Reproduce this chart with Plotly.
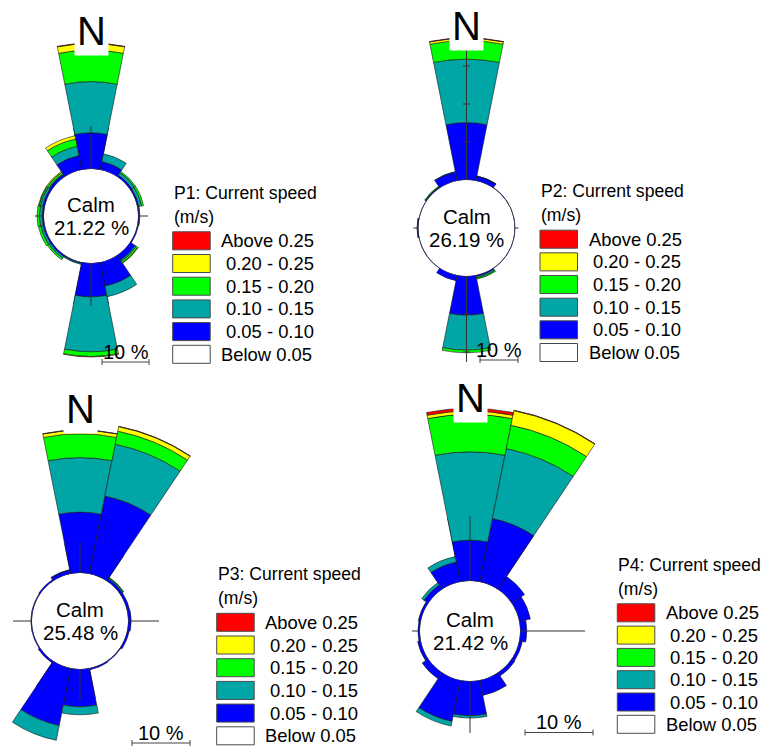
import math
import plotly.graph_objects as go

W, H = 768, 747
FONT = "Liberation Sans, Arial, sans-serif"

# ---------------- data ----------------
DIRECTIONS = ["N", "NNE", "NE", "ENE", "E", "ESE", "SE", "SSE",
              "S", "SSW", "SW", "WSW", "W", "WNW", "NW", "NNW"]
THETA = [0, 22.5, 45, 67.5, 90, 112.5, 135, 157.5,
         180, 202.5, 225, 247.5, 270, 292.5, 315, 337.5]
SECTOR_WIDTH = 22.5

SPEED_BINS = ["0.05 - 0.10", "0.10 - 0.15", "0.15 - 0.20", "0.20 - 0.25", "Above 0.25"]
BIN_COLORS = ["#0000FF", "#00A6A6", "#00FF00", "#FFFF00", "#FF0000"]
LEGEND_LABELS = ["Above 0.25", "0.20 - 0.25", "0.15 - 0.20", "0.10 - 0.15", "0.05 - 0.10", "Below 0.05"]
LEGEND_COLORS = ["#FF0000", "#FFFF00", "#00FF00", "#00A6A6", "#0000FF", "#FFFFFF"]

STATIONS = ["P1", "P2", "P3", "P4"]
CALM_PCT = [21.22, 26.19, 25.48, 21.42]

# frequency (%) per direction for each speed bin
P1_005_010 = [7.7, 1.8, 0.5, 0.4, 0.3, 0.3, 1.3, 5.2, 7.2, 0.3, 0.4, 0.4, 0.4, 0.5, 0.6, 3.1]
P1_010_015 = [10.9, 1.7, 0.6, 0.6, 0.1, 0.0, 0.3, 2.3, 11.7, 0.2, 0.4, 0.5, 0.6, 0.5, 0.2, 2.0]
P1_015_020 = [6.7, 0.0, 0.3, 0.4, 0.0, 0.0, 0.4, 0.0, 1.0, 0.0, 0.4, 0.5, 0.5, 0.3, 0.4, 1.6]
P1_020_025 = [1.4, 0, 0, 0, 0, 0, 0.1, 0, 0.1, 0, 0, 0, 0, 0.1, 0.2, 0.7]
P1_ABOVE_025 = [0.1, 0, 0, 0, 0, 0, 0, 0, 0, 0, 0, 0, 0, 0, 0, 0]

P2_005_010 = [15.1, 1.3, 0.15, 0.15, 0.15, 0.15, 0.15, 0.4, 10.3, 1.5, 0.15, 0.15, 0.3, 0.15, 0.3, 2.4]
P2_010_015 = [16.7, 0.05, 0, 0, 0, 0, 0, 0.4, 9.2, 0, 0, 0, 0.1, 0, 0.1, 0.1]
P2_015_020 = [4.9, 0, 0, 0, 0, 0, 0, 0.3, 0.7, 0, 0, 0, 0, 0, 0.2, 0]
P2_020_025 = [0.6, 0, 0, 0, 0, 0, 0, 0, 0, 0, 0, 0, 0, 0, 0, 0]
P2_ABOVE_025 = [0.1, 0, 0, 0, 0, 0, 0, 0, 0, 0, 0, 0, 0, 0, 0, 0]

P3_005_010 = [10.5, 13.7, 0.5, 0.5, 0.55, 0.4, 0.2, 0.3, 6.5, 10.1, 0.4, 0.2, 0.2, 0.2, 0.3, 0.7]
P3_010_015 = [9.4, 9.1, 0.2, 0, 0, 0, 0, 0, 1.4, 2.6, 0, 0, 0, 0, 0, 0.05]
P3_015_020 = [4.1, 2.3, 0.1, 0, 0, 0, 0, 0, 0, 0, 0, 0, 0, 0, 0, 0]
P3_020_025 = [0.6, 0.8, 0, 0, 0, 0, 0, 0, 0, 0, 0, 0, 0, 0, 0, 0]
P3_ABOVE_025 = [0.05, 0.05, 0, 0, 0, 0, 0, 0, 0, 0, 0, 0, 0, 0, 0, 0]

P4_005_010 = [6.0, 9.5, 2.3, 1.7, 1.0, 0.5, 0.6, 2.3, 5.1, 6.2, 1.1, 0.5, 0.3, 0.4, 0.8, 3.0]
P4_010_015 = [13.0, 10.5, 0, 0, 0, 0, 0, 0, 0.35, 0.7, 0, 0, 0, 0, 0.4, 0.8]
P4_015_020 = [5.5, 3.5, 0, 0, 0, 0, 0, 0, 0, 0, 0, 0, 0, 0, 0, 0]
P4_020_025 = [0.5, 2.2, 0, 0, 0, 0, 0, 0, 0, 0, 0, 0, 0, 0, 0, 0]
P4_ABOVE_025 = [0.4, 0.05, 0, 0, 0, 0, 0, 0, 0, 0, 0, 0, 0, 0, 0, 0]

STATION_DATA = {
    "P1": [P1_005_010, P1_010_015, P1_015_020, P1_020_025, P1_ABOVE_025],
    "P2": [P2_005_010, P2_010_015, P2_015_020, P2_020_025, P2_ABOVE_025],
    "P3": [P3_005_010, P3_010_015, P3_015_020, P3_020_025, P3_ABOVE_025],
    "P4": [P4_005_010, P4_010_015, P4_015_020, P4_020_025, P4_ABOVE_025],
}

# ---------------- layout / style (pixels) ----------------
PANELS = {
    "P1": dict(cx=91, cy=216, r0=47, ppp=4.7, long_groups=[[0], [8]],
               arms=[(0, 171), (90, 57), (180, 146), (270, 56)],
               n_y=31.1, leg_x=172.7, leg_y=240.8, leg_dy=22.7,
               scale_x=125.5, scale_y=362),
    "P2": dict(cx=466.5, cy=228, r0=48, ppp=3.8, long_groups=[],
               arms=[(0, 183), (90, 52), (180, 134), (270, 53)],
               n_y=26.1, leg_x=540, leg_y=239.2, leg_dy=22.66,
               scale_x=499, scale_y=360),
    "P3": dict(cx=80, cy=621, r0=48, ppp=5.8, long_groups=[[0, 1], [8, 9]],
               arms=[(0, 192), (90, 112), (180, 124), (270, 67)],
               n_y=409.1, leg_x=216.7, leg_y=622.3, leg_dy=22.7,
               scale_x=161, scale_y=743),
    "P4": dict(cx=470, cy=631, r0=50, ppp=6.8, long_groups=[[0, 1]],
               arms=[(0, 221), (90, 120), (180, 102), (270, 58)],
               n_y=397.8, leg_x=617.3, leg_y=612.8, leg_dy=22.3,
               scale_x=559, scale_y=732.5),
}
LEG_BOX_W, LEG_BOX_H = 37.5, 18
OUTLINE = "#1a1a1a"


def sector_bbox(s0, s1):
    """Same bounding box rule Plotly uses for polar sectors (includes origin)."""
    arc = s1 - s0
    a0 = s0 % 360
    a1 = a0 + arc
    ax0, ay0 = math.cos(math.radians(a0)), math.sin(math.radians(a0))
    ax1, ay1 = math.cos(math.radians(a1)), math.sin(math.radians(a1))
    if (a0 <= 90 and a1 >= 90) or (a0 > 90 and a1 >= 450):
        y1 = 1
    elif ay0 <= 0 and ay1 <= 0:
        y1 = 0
    else:
        y1 = max(ay0, ay1)
    if (a0 <= 180 and a1 >= 180) or (a0 > 180 and a1 >= 540):
        x0 = -1
    elif ax0 >= 0 and ax1 >= 0:
        x0 = 0
    else:
        x0 = min(ax0, ax1)
    if (a0 <= 270 and a1 >= 270) or (a0 > 270 and a1 >= 630):
        y0 = -1
    elif ay0 >= 0 and ay1 >= 0:
        y0 = 0
    else:
        y0 = min(ay0, ay1)
    if a1 >= 360:
        x1 = 1
    elif ax0 <= 0 and ax1 <= 0:
        x1 = 0
    else:
        x1 = max(ax0, ax1)
    return x0, y0, x1, y1


def domain_for(cx, cy, R, sector):
    x0, y0, x1, y1 = sector_bbox(*sector)
    left, right = cx + R * x0, cx + R * x1
    top, bottom = cy - R * y1, cy - R * y0
    return dict(x=[max(0.0, left / W), min(1.0, right / W)],
                y=[max(0.0, 1 - bottom / H), min(1.0, 1 - top / H)])


fig = go.Figure()
polars = {}
counter = [0]


def new_polar(p, R, sector):
    counter[0] += 1
    name = "polar" if counter[0] == 1 else f"polar{counter[0]}"
    polars[name] = dict(
        domain=domain_for(p["cx"], p["cy"], R, sector),
        sector=list(sector),
        hole=p["r0"] / R,
        bgcolor="rgba(0,0,0,0)",
        bargap=0,
        barmode="stack",
        radialaxis=dict(visible=False, range=[0, (R - p["r0"]) / p["ppp"]]),
        angularaxis=dict(visible=False, rotation=90, direction="clockwise"),
    )
    return name


def add_bars(station, subplot):
    for label, color, vals in zip(SPEED_BINS, BIN_COLORS, STATION_DATA[station]):
        fig.add_trace(go.Barpolar(
            r=vals, theta=THETA, width=[SECTOR_WIDTH] * len(THETA),
            marker=dict(color=color, line=dict(color=OUTLINE, width=0.6)),
            name=f"{station} {label}", subplot=subplot,
            showlegend=False, hoverinfo="skip"))


def totals(station):
    return [sum(v) for v in zip(*STATION_DATA[station])]


for station, calm in zip(STATIONS, CALM_PCT):
    p = PANELS[station]
    cx, cy, r0, ppp = p["cx"], p["cy"], p["r0"], p["ppp"]
    tot = totals(station)

    # long petals get their own narrow sector so they are not clipped
    for group in p["long_groups"]:
        ths = [THETA[i] for i in group]
        s_hi = 90 - min(ths) + SECTOR_WIDTH / 2 + 1
        s_lo = 90 - max(ths) - SECTOR_WIDTH / 2 - 1
        s_lo_m = s_lo % 360
        sector = (s_lo_m, s_lo_m + (s_hi - s_lo))
        R = r0 + (max(tot[i] for i in group) + 0.3) * ppp
        add_bars(station, new_polar(p, R, sector))

    # base full rose (+ axes and calm circle drawn on top)
    R_base = min(r0 + (max(tot) + 0.3) * ppp, cx - 1, cy - 1, W - cx - 1, H - cy - 1)
    base = new_polar(p, R_base, (0, 360))
    add_bars(station, base)

    # axis arms with tick marks every 10 %
    ar, at = [], []
    for th, L in p["arms"]:
        Lp = (L - r0) / ppp
        ar += [0, Lp, None]
        at += [th, th, None]
        k = 1
        while 10 * k <= Lp + 0.3:
            d = r0 + 10 * k * ppp
            h = 3.5
            rr = (math.hypot(d, h) - r0) / ppp
            dth = math.degrees(math.atan2(h, d))
            ar += [rr, rr, None]
            at += [th - dth, th + dth, None]
            k += 1
    fig.add_trace(go.Scatterpolar(r=ar, theta=at, mode="lines", subplot=base,
                                  line=dict(color="#333333", width=1),
                                  cliponaxis=False, showlegend=False, hoverinfo="skip"))
    circ_t = [i * 2 for i in range(181)]
    fig.add_trace(go.Scatterpolar(r=[0] * len(circ_t), theta=circ_t, mode="lines", subplot=base,
                                  line=dict(color="#444444", width=1),
                                  cliponaxis=False, showlegend=False, hoverinfo="skip"))


def ann(text, x, y, size, xanchor="center", **kw):
    fig.add_annotation(text=text, x=x / W, y=1 - y / H, xref="paper", yref="paper",
                       showarrow=False, xanchor=xanchor, yanchor="middle",
                       font=dict(family=FONT, size=size, color="black"), **kw)


for station, calm in zip(STATIONS, CALM_PCT):
    p = PANELS[station]
    cx, cy = p["cx"], p["cy"]
    # North marker
    ann("N", cx, p["n_y"], 40, bgcolor="white", borderpad=2)
    # calm label
    ann("Calm", cx, cy - 11.5, 20.5)
    ann(f"{calm:.2f} %", cx, cy + 11.5, 20.5)
    # legend
    lx, ly, dy = p["leg_x"], p["leg_y"], p["leg_dy"]
    ann(f"{station}: Current speed", lx - 1, ly - 48, 17.6, xanchor="left")
    ann("(m/s)", lx - 1, ly - 24, 17.6, xanchor="left")
    for i, (lab, col) in enumerate(zip(LEGEND_LABELS, LEGEND_COLORS)):
        yc = ly + i * dy
        fig.add_shape(type="rect", xref="paper", yref="paper",
                      x0=lx / W, x1=(lx + LEG_BOX_W) / W,
                      y0=1 - (yc - LEG_BOX_H / 2) / H, y1=1 - (yc + LEG_BOX_H / 2) / H,
                      fillcolor=col, line=dict(color="#4a4a4a", width=1))
        off = 9 if lab[0].isalpha() else 13.5
        ann(lab, lx + LEG_BOX_W + off, yc, 18.4, xanchor="left")
    # scale bar (10 %)
    length = 10 * p["ppp"]
    sx_c = p["scale_x"]
    sy = p["scale_y"]
    x0s, x1s = sx_c - length / 2, sx_c + length / 2
    fig.add_shape(type="line", xref="paper", yref="paper", x0=x0s / W, x1=x1s / W,
                  y0=1 - sy / H, y1=1 - sy / H, line=dict(color="#444444", width=1))
    for xe in (x0s, x1s):
        fig.add_shape(type="line", xref="paper", yref="paper", x0=xe / W, x1=xe / W,
                      y0=1 - (sy - 3) / H, y1=1 - (sy + 3) / H, line=dict(color="#444444", width=1))
    ann("10 %", sx_c, sy - 10.5, 20)

fig.update_layout(width=W, height=H, margin=dict(l=0, r=0, t=0, b=0),
                  paper_bgcolor="white", plot_bgcolor="white", showlegend=False,
                  **polars)
fig.write_html("out.html")
